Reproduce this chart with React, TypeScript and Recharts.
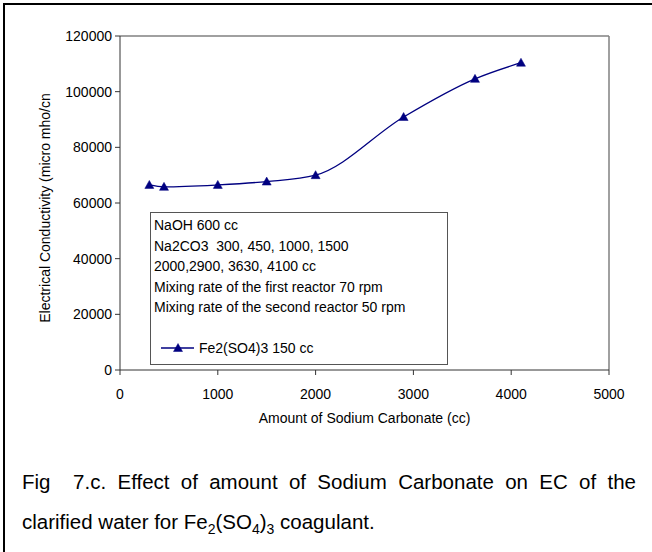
import React from 'react';
import { LineChart, Line, XAxis, YAxis, ReferenceLine, Legend } from 'recharts';

const sodaDoses = [300, 450, 1000, 1500, 2000, 2900, 3630, 4100];
const ecValues = [66500, 65800, 66500, 67700, 70000, 90900, 104600, 110400];

const xTicks = [0, 1000, 2000, 3000, 4000, 5000];
const yTicks = [0, 20000, 40000, 60000, 80000, 100000, 120000];

const legendNotes = [
  'NaOH 600 cc',
  'Na2CO3  300, 450, 1000, 1500',
  '2000,2900, 3630, 4100 cc',
  'Mixing rate of the first reactor 70 rpm',
  'Mixing rate of the second reactor 50 rpm',
];
const seriesName = 'Fe2(SO4)3 150 cc';

const FONT = '"Liberation Sans", Arial, sans-serif';
const NAVY = '#000080';

const data = sodaDoses.map((x, i) => ({ x, ec: ecValues[i] }));

const Triangle = (props: any) => {
  const { cx, cy } = props;
  if (cx == null || cy == null) return null;
  return (
    <polygon
      points={`${cx},${cy - 4.5} ${cx - 4.5},${cy + 3.5} ${cx + 4.5},${cy + 3.5}`}
      fill={NAVY}
      stroke={NAVY}
      strokeWidth={0.5}
    />
  );
};

const NotesLegend = () => (
  <div
    style={{
      boxSizing: 'border-box',
      width: 298,
      height: 153,
      border: '1.5px solid #555',
      background: '#fff',
      fontFamily: FONT,
      fontSize: 14,
      lineHeight: '20.5px',
      color: '#000',
      padding: '2px 0 0 3px',
      position: 'relative',
      textAlign: 'left',
    }}
  >
    {legendNotes.map((t) => (
      <div key={t} style={{ whiteSpace: 'pre' }}>{t}</div>
    ))}
    <div style={{ position: 'absolute', left: 9, bottom: 6, display: 'flex', alignItems: 'center' }}>
      <svg width={36} height={12} style={{ display: 'block' }}>
        <line x1={1} y1={6} x2={34} y2={6} stroke={NAVY} strokeWidth={1.3} />
        <Triangle cx={18} cy={6} />
      </svg>
      <span style={{ marginLeft: 3 }}>{seriesName}</span>
    </div>
  </div>
);

const sub = { fontSize: 14, position: 'relative' as const, top: 5, lineHeight: 0 };

export default function App() {
  return (
    <div style={{ position: 'absolute', left: 0, top: 0, width: 652, height: 552, overflow: 'hidden', background: '#fff' }}>
      <div style={{ position: 'absolute', left: 3, top: 3, width: 700, height: 700, border: '2px solid #000' }} />
      <LineChart
        width={652}
        height={552}
        data={data}
        margin={{ top: 36, right: 43, left: 60, bottom: 152 }}
        style={{ fontFamily: FONT }}
      >
        <ReferenceLine y={120000} stroke="#808080" strokeWidth={1.5} />
        <ReferenceLine x={5000} stroke="#808080" strokeWidth={1.5} />
        <XAxis
          type="number"
          dataKey="x"
          domain={[0, 5000]}
          ticks={xTicks}
          height={30}
          tickSize={5}
          tickMargin={14}
          stroke="#333"
          tick={{ fill: '#000', fontSize: 14, fontFamily: FONT }}
          label={{ value: 'Amount of Sodium Carbonate (cc)', position: 'bottom', offset: 13, fill: '#000', fontSize: 14, fontFamily: FONT }}
        />
        <YAxis
          type="number"
          domain={[0, 120000]}
          ticks={yTicks}
          width={60}
          tickSize={5}
          tickMargin={3}
          stroke="#333"
          tick={{ fill: '#000', fontSize: 14, fontFamily: FONT }}
          label={{
            content: ({ viewBox }: any) => {
              const x = viewBox.x - 15;
              const y = viewBox.y + viewBox.height / 2 + 5;
              return (
                <text x={x} y={y} transform={`rotate(-90 ${x} ${y})`} textAnchor="middle" dominantBaseline="central" fill="#000" fontSize={14} fontFamily={FONT}>
                  Electrical Conductivity (micro mho/cn
                </text>
              );
            },
          }}
        />
        <Legend
          layout="vertical"
          align="center"
          verticalAlign="middle"
          content={() => <NotesLegend />}
          wrapperStyle={{ position: 'absolute', left: 150, top: 212, width: 298, height: 153 }}
        />
        <Line
          type="monotone"
          dataKey="ec"
          name={seriesName}
          stroke={NAVY}
          strokeWidth={1.3}
          dot={<Triangle />}
          activeDot={false}
          isAnimationActive={false}
        />
      </LineChart>
      <div
        style={{
          position: 'absolute',
          left: 22,
          top: 462,
          width: 614,
          fontFamily: FONT,
          fontSize: 20.5,
          lineHeight: '40px',
          color: '#000',
        }}
      >
        <div style={{ textAlign: 'justify', textAlignLast: 'justify', whiteSpace: 'nowrap' as const }}>
          Fig&nbsp; 7.c. Effect of amount of Sodium Carbonate on EC of the
        </div>
        <div>
          clarified water for Fe<span style={sub}>2</span>(SO<span style={sub}>4</span>)<span style={sub}>3</span> coagulant.
        </div>
      </div>
    </div>
  );
}
